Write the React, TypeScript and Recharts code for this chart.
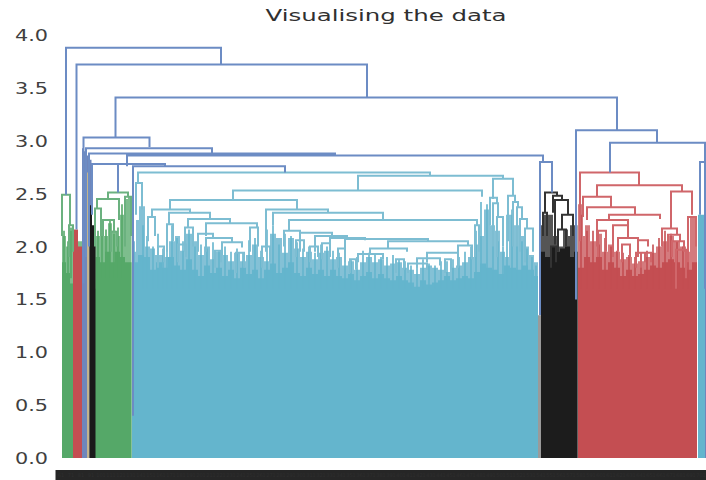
import React from "react";
import { ComposedChart, Line, Area, XAxis, YAxis } from "recharts";

type Link = [number, number, number, number, number];

const title = "Visualising the data";
const yTicks = [0, 0.5, 1, 1.5, 2, 2.5, 3, 3.5, 4];
const leafTicks = [61,71,81,91,101,111,121,131,141,151,161,171,181,191,201,211,221,231,241,251,261,271,281,291,301,311,321,331,341,351,361,371,381,391,401,411,421,431,441,451,461,471,481,491,501,511,521,531,541,551,561,571,581,591,601,611,621,631,641,651,661,671,681,691,701];

// [left leaf position, right leaf position, merge height, left foot, right foot]
const blueLinks: Link[] = [
  [66,221,3.88,2.49,3.72],[76.5,367,3.72,2.16,3.41],[115.5,617,3.41,3.03,3.10],
  [83.5,149.5,3.03,1.65,2.94],[86,212,2.93,1.9,2.88],[89,335,2.88,2.0,2.86],
  [127,543,2.86,2.76,2.80],[92,165,2.78,2.3,2.76],[118,165,2.78,2.51,2.76],
  [133,285,2.76,0.4,2.70],[540,552,2.80,1.35,2.51],[576,657,3.10,1.5,2.98],
  [610,705,2.98,2.70,2.80],[700,705,2.80,2.3,1.6],
];
const cyanLinks: Link[] = [
  [138,430,2.70,2.60,2.67],[358,503,2.67,2.53,2.64],[493,513,2.64,2.45,2.48],[233,482,2.53,2.44,2.47],
  [170,297,2.44,2.35,2.35],[152,190,2.35,2.28,2.32],[169,210,2.32,2.21,2.26],[148,155,2.28,2.05,2.10],
  [188,230,2.26,2.18,2.22],[206,257,2.22,2.10,2.18],[266,328,2.35,1.95,2.32],[273,383,2.32,2.20,2.25],
  [289,477,2.25,2.15,2.20],[284,300,2.15,2.0,2.13],[136,142,2.60,2.30,2.35],[167,173,2.21,1.95,2.05],
  [185,193,2.18,1.95,2.0],[198,213,2.12,1.95,2.08],[206,232,2.08,1.95,2.04],[222,242,2.04,1.92,1.99],
  [250,258,2.18,1.95,2.0],[300,332,2.13,1.95,2.10],[315,347,2.10,1.95,2.08],[330,365,2.08,1.9,2.06],
  [345,428,2.07,1.95,2.05],[388,468,2.05,1.98,2.0],[370,407,1.98,1.93,1.95],[358,383,1.93,1.85,1.88],
  [458,472,2.01,1.8,1.88],[427,458,1.94,1.85,1.88],[417,440,1.89,1.8,1.82],[408,427,1.84,1.75,1.78],
  [475,479,2.20,1.9,1.95],[490,497,2.46,2.2,2.41],[493,498,2.41,2.0,2.28],[497,503,2.28,1.9,2.0],
  [508,515,2.48,2.05,2.42],[513,518,2.42,2.0,2.37],[517,522,2.37,2.0,2.26],[520,527,2.26,1.95,2.17],
  [525,533,2.17,1.85,1.95],[296,304,2.06,1.9,1.95],[310,318,2.0,1.85,1.9],[322,330,2.03,1.88,1.92],
  [338,345,1.98,1.8,1.85],[350,356,1.88,1.75,1.78],[178,186,2.02,1.85,1.9],[158,164,2.0,1.8,1.85],
  [215,221,1.96,1.8,1.85],[236,244,1.94,1.75,1.8],[262,270,2.0,1.8,1.85],[396,404,1.88,1.75,1.78],
  [445,451,1.88,1.75,1.78],
];
const greenLinks: Link[] = [
  [62,70,2.49,2.1,2.2],[69,73,2.2,1.9,1.95],[108,128,2.51,2.45,2.47],[97,119,2.45,2.36,2.25],
  [95,101,2.36,2.0,2.1],[103,114,2.25,2.1,2.14],[111,117,2.14,1.95,2.0],[125,131,2.47,2.0,2.1],
];
const redLinks: Link[] = [
  [580,639,2.70,2.05,2.58],[597,682,2.58,2.47,2.52],[671,692,2.52,2.17,2.30],[583,611,2.47,2.28,2.37],
  [587,635,2.37,2.25,2.30],[609,660,2.30,2.25,2.26],[597,628,2.25,2.0,2.20],[613,628,2.20,1.9,2.08],
  [618,638,2.08,1.95,2.0],[638,648,2.06,1.9,2.0],[641,651,1.94,1.8,1.85],[636,645,1.94,1.8,1.85],
  [662,677,2.17,2.0,2.11],[668,680,2.11,1.95,2.05],[672,684,2.05,1.9,1.95],[676,686,1.97,1.6,1.7],
  [598,606,2.15,1.9,1.95],[622,630,2.02,1.85,1.9],[688,696,2.28,1.85,2.0],
];
const blackLinks: Link[] = [
  [545,557,2.51,2.32,2.48],[553,562,2.48,2.32,2.44],[555,568,2.44,2.02,2.30],[562,573,2.30,2.16,2.10],
  [543,547,2.32,2.1,2.1],[558,566,2.16,1.95,2.0],[551,556,2.0,1.8,1.85],
];

const greenBody = [[62,1.85],[66,1.75],[70,1.65],[73,1.6],[95.5,1.9],[100,1.85],[105,1.95],[110,1.85],[115,1.95],[120,1.9],[125,1.85],[131.5,1.9]];
const greenSpikes = [[62,2.1],[66,2.0],[70,2.15],[73,2.05],[95.5,2.1],[100,2.2],[104,2.1],[108,2.22],[112,2.15],[116,2.1],[120,2.3],[124,2.45],[128,2.47],[131.5,2.2]];
const redBar = [[73,2.16],[78,2.0],[82,1.9]];
const blueBar = [[82,2.93],[84,2.9],[87,2.86],[89,2.82],[91.5,2.82]];
const tanBar = [[87,2.7],[89.5,2.7]];
const blackBar = [[89.5,2.39],[92,2.2],[95.5,2.1]];
const cyanBody = [[132,1.85],[138,1.92],[144,1.9],[150,1.78],[156,1.85],[162,1.8],[168,1.9],[174,1.82],[180,1.78],[186,1.88],[192,1.78],[198,1.72],[204,1.82],[210,1.75],[216,1.8],[222,1.72],[228,1.78],[234,1.7],[240,1.8],[246,1.74],[252,1.78],[258,1.7],[264,1.78],[270,1.84],[276,1.75],[282,1.8],[288,1.85],[294,1.75],[300,1.72],[306,1.8],[312,1.74],[318,1.78],[324,1.72],[330,1.78],[336,1.72],[342,1.7],[348,1.74],[354,1.68],[360,1.72],[366,1.76],[372,1.7],[378,1.74],[384,1.7],[390,1.68],[396,1.72],[402,1.68],[408,1.66],[414,1.62],[420,1.68],[426,1.64],[432,1.66],[438,1.68],[444,1.72],[450,1.68],[456,1.7],[462,1.72],[468,1.7],[474,1.76],[480,1.84],[486,1.8],[492,1.78],[498,1.74],[504,1.82],[510,1.8],[516,1.78],[522,1.82],[528,1.78],[534,1.72],[538,1.7]];
const cyanSpikes = [[132,1.95],[136,2.25],[139,2.38],[145,2.0],[150,1.98],[155,1.92],[160,1.92],[165,1.9],[169,2.05],[175,2.1],[180,1.96],[186,2.12],[192,2.05],[198,1.92],[204,2.0],[210,1.88],[216,1.95],[222,1.92],[228,1.86],[234,1.94],[240,1.86],[246,1.92],[252,2.02],[258,1.9],[264,1.86],[270,2.12],[276,2.08],[282,1.94],[288,2.08],[294,1.98],[300,1.9],[306,1.95],[312,1.88],[318,1.94],[324,1.96],[330,1.88],[336,1.9],[342,1.82],[348,1.86],[354,1.78],[360,1.85],[366,1.9],[372,1.85],[378,1.88],[384,1.82],[390,1.84],[396,1.85],[402,1.8],[408,1.78],[414,1.74],[420,1.8],[426,1.82],[432,1.8],[438,1.78],[444,1.76],[450,1.8],[456,1.82],[462,1.85],[468,1.9],[474,2.02],[478,2.1],[484,2.35],[490,2.2],[495,2.15],[500,1.95],[505,1.9],[509,2.3],[514,2.2],[519,2.1],[524,2.0],[529,1.92],[534,1.85],[538,1.75]];
const greyBar = [[538,1.35],[541,1.35]];
const blackBody = [[541,1.95],[545,1.9],[550,2.0],[555,1.95],[560,1.98],[565,2.0],[570,1.9],[574,1.95],[577.5,2.0]];
const blackSpikes = [[541,2.2],[543,2.3],[553,2.1],[558,2.0],[563,2.16],[568,2.1],[570,2.2],[574,2.2],[577.5,2.1]];
const redBody = [[578,1.8],[584,1.9],[590,1.85],[596,1.9],[602,1.78],[608,1.85],[614,1.8],[620,1.72],[626,1.78],[632,1.72],[638,1.74],[644,1.78],[650,1.82],[656,1.8],[662,1.85],[668,1.88],[674,1.85],[680,1.8],[686,1.78],[692,1.85],[697,1.8]];
const redSpikes = [[578,2.4],[583,2.1],[585,2.2],[590,2.05],[596,2.12],[602,1.95],[608,2.02],[614,1.95],[620,1.88],[626,1.9],[632,1.84],[638,1.86],[644,1.9],[650,1.94],[656,2.0],[662,2.05],[668,2.1],[674,2.05],[680,2.0],[686,1.95],[690,2.28],[697,2.25]];
const tailCyan = [[698,2.3],[705,2.3]];
const tailBlue = [[705,2.7],[706,2.7]];

// thin single leaves rising above the dense mass: [leaf position, top]
const cyanLeaves = [[134,2.05],[143,2.2],[147,2.1],[153,2.0],[158,2.12],[163,1.98],[167,2.15],[172,2.2],[177,2.08],[183,2.05],[189,2.16],[195,2.0],[201,2.02],[207,1.98],[213,2.04],[219,1.96],[225,2.0],[231,1.95],[237,1.98],[243,1.94],[249,2.06],[255,2.08],[261,1.96],[267,2.16],[273,2.2],[279,2.02],[285,2.12],[291,2.1],[297,2.04],[303,1.98],[309,2.0],[315,1.94],[321,2.02],[327,2.0],[333,1.96],[339,1.94],[345,1.92],[351,1.88],[357,1.9],[363,1.96],[369,1.94],[375,1.92],[381,1.9],[387,1.9],[393,1.92],[399,1.88],[405,1.86],[411,1.82],[417,1.86],[423,1.88],[429,1.84],[435,1.82],[441,1.86],[447,1.86],[453,1.88],[459,1.9],[465,1.95],[471,2.0],[476,2.15],[481,2.42],[487,2.4],[493,2.25],[498,2.05],[503,2.0],[507,2.3],[512,2.35],[517,2.15],[522,2.05],[527,1.98],[532,1.9],[536,1.82]];
const redLeaves = [[581,2.3],[587,2.15],[593,2.15],[599,2.02],[605,2.08],[611,2.0],[617,1.96],[623,1.94],[629,1.92],[635,1.9],[641,1.92],[647,1.96],[653,2.02],[659,2.08],[665,2.15],[671,2.12],[677,2.05],[683,2.0],[688,1.95]];
const greenLeaves = [[64,2.15],[68,2.05],[71,2.18],[98,2.15],[102,2.22],[106,2.16],[110,2.24],[114,2.12],[118,2.18],[122,2.4]];

const linkPath = (links: Link[]) =>
  links.flatMap(([a, b, h, la, lb]) => [
    { x: a, y: la },
    { x: a, y: h },
    { x: b, y: h },
    { x: b, y: lb },
    { x: b, y: null },
  ]);
const leafPath = (leaves: number[][], foot: number) =>
  leaves.flatMap(([x, top]) => [
    { x, y: foot },
    { x, y: top },
    { x, y: null },
  ]);
const edge = (pts: number[][]) => pts.map(([x, y]) => ({ x, y }));

const YTick = (p: any) => (
  <text x={p.x} y={p.y + 6} textAnchor="end" fontFamily="DejaVu Sans" fontSize={16} fill="#404040" textLength={33} lengthAdjust="spacingAndGlyphs">
    {p.payload.value.toFixed(1)}
  </text>
);
const LeafTick = (p: any) => (
  <g>
    <rect x={p.x - 5.5} y={p.y + 6} width={11} height={10} fill="#262626" />
    <text x={p.x} y={p.y + 13} textAnchor="middle" fontFamily="DejaVu Sans" fontSize={5} fill="#2e2e2e">
      {p.payload.value}
    </text>
  </g>
);

const links = (name: string, d: Link[], color: string, w = 2) => (
  <Line key={name} name={name} data={linkPath(d)} dataKey="y" stroke={color} strokeWidth={w} dot={false} connectNulls={false} isAnimationActive={false} />
);
const leaves = (name: string, d: number[][], foot: number, color: string) => (
  <Line key={name} name={name} data={leafPath(d, foot)} dataKey="y" stroke={color} strokeWidth={1.6} dot={false} connectNulls={false} isAnimationActive={false} />
);
const fill = (name: string, d: number[][], color: string, op = 1) => (
  <Area key={name} name={name} data={edge(d)} dataKey="y" type="stepAfter" stroke="none" fill={color} fillOpacity={op} isAnimationActive={false} />
);

export default function App() {
  return (
    <div style={{ position: "absolute", left: 0, top: 0 }}>
      <ComposedChart width={706} height={480} margin={{ top: 35, right: 0, bottom: 0, left: 0 }}>
        <XAxis dataKey="x" type="number" domain={[56, 706]} ticks={leafTicks} interval={0} height={22} axisLine={false} tickLine={false} tickMargin={0} tick={<LeafTick />} allowDataOverflow />
        <YAxis type="number" domain={[0, 4]} ticks={yTicks} width={56} axisLine={false} tickLine={false} tick={<YTick />} />
        {fill("greenSpikes", greenSpikes, "#7dbd8d")}
        {fill("greenBody", greenBody, "#55A868")}
        {leaves("greenLeaves", greenLeaves, 1.7, "#55A868")}
        {fill("redBar", redBar, "#C44E52")}
        {fill("blueBar", blueBar, "#6f86bb")}
        {fill("tanBar", tanBar, "#c4b48c")}
        {fill("blackBar", blackBar, "#1a1a1a")}
        {fill("cyanSpikes", cyanSpikes, "#84c1d6")}
        {fill("cyanBody", cyanBody, "#64B5CD")}
        {leaves("cyanLeaves", cyanLeaves, 1.6, "#64B5CD")}
        {fill("greyBar", greyBar, "#9a9a9a")}
        {fill("blackSpikes", blackSpikes, "#555555")}
        {fill("blackBody", blackBody, "#1c1c1c")}
        {fill("redSpikes", redSpikes, "#d47b7e")}
        {fill("redBody", redBody, "#C44E52")}
        {leaves("redLeaves", redLeaves, 1.6, "#C44E52")}
        {fill("tailCyan", tailCyan, "#64B5CD")}
        {fill("tailBlue", tailBlue, "#6f86bb")}
        {links("green", greenLinks, "#6bb17f")}
        {links("cyan", cyanLinks, "#7dbdd2")}
        {links("red", redLinks, "#d0666a")}
        {links("black", blackLinks, "#333333")}
        {links("blue", blueLinks, "#6c8cc4")}
        <text x={386} y={21} textAnchor="middle" fontFamily="DejaVu Sans" fontSize={15} fill="#303030" textLength={241} lengthAdjust="spacingAndGlyphs">{title}</text>
      </ComposedChart>
    </div>
  );
}
